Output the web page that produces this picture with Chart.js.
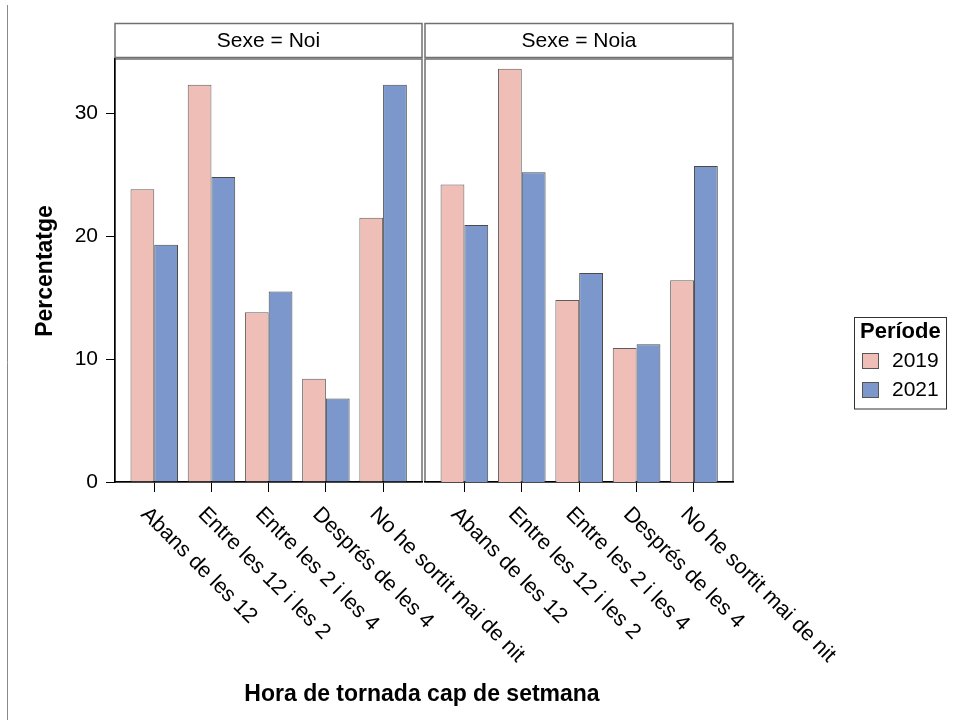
<!DOCTYPE html>
<html>
<head>
<meta charset="utf-8">
<script src="https://cdn.jsdelivr.net/npm/chart.js@4.4.1/dist/chart.umd.min.js"></script>
<style>
  body { margin: 0; background: #fff; }
  #wrap { position: relative; width: 954px; height: 720px; }
  canvas { position: absolute; left: 0; top: 0; }
</style>
</head>
<body>
<div id="wrap">
  <canvas id="noi" width="954" height="720"></canvas>
  <canvas id="noia" width="954" height="720"></canvas>
</div>
<script>
// data
const categories = ['Abans de les 12', 'Entre les 12 i les 2', 'Entre les 2 i les 4', 'Després de les 4', 'No he sortit mai de nit'];
const periods = ['2019', '2021'];
const panelTitles = ['Sexe = Noi', 'Sexe = Noia'];
const noi2019 = [23.8, 32.3, 13.8, 8.4, 21.5];
const noi2021 = [19.3, 24.8, 15.5, 6.8, 32.3];
const noia2019 = [24.2, 33.6, 14.8, 10.9, 16.4];
const noia2021 = [20.9, 25.2, 17.0, 11.2, 25.7];
const yTicks = [0, 10, 20, 30];
const yMax = 34.4;

const colors = ['#EFBEB7', '#7B97CC'];
const FONT = '"Liberation Sans", Arial, sans-serif';

Chart.defaults.font.family = FONT;
Chart.defaults.color = '#000';

// frame + strip header for each panel
const panelFrame = {
    id: 'panelFrame',
    beforeDraw(chart, args, opts) {
        const ctx = chart.ctx;
        const a = chart.chartArea;
        ctx.save();
        ctx.strokeStyle = '#707070';
        ctx.lineWidth = 1.5;
        ctx.strokeRect(a.left, a.top, a.right - a.left, a.bottom - a.top);
        ctx.strokeRect(a.left, 23.5, a.right - a.left, 34);
        ctx.fillStyle = '#000';
        ctx.font = '21px ' + FONT;
        ctx.textAlign = 'center';
        ctx.textBaseline = 'middle';
        ctx.fillText(opts.title, (a.left + a.right) / 2, 41);
        ctx.restore();
    },
    afterDraw(chart) {
        // rotated category labels under the axis
        const ctx = chart.ctx;
        const xs = chart.scales.x;
        ctx.save();
        ctx.fillStyle = '#000';
        ctx.font = '21.5px ' + FONT;
        ctx.textAlign = 'left';
        ctx.textBaseline = 'middle';
        categories.forEach(function (c, i) {
            const px = xs.getPixelForValue(i + 1);
            ctx.save();
            ctx.translate(px - 10, 511);
            ctx.rotate(Math.PI / 4);
            ctx.fillText(c, 0, 0);
            ctx.restore();
        });
        ctx.restore();
    }
};

// axis titles, legend and the thin line at the far left
const decorations = {
    id: 'decorations',
    afterDraw(chart) {
        const ctx = chart.ctx;
        ctx.save();
        ctx.strokeStyle = '#8a8a8a';
        ctx.lineWidth = 1;
        ctx.beginPath();
        ctx.moveTo(7.5, 5);
        ctx.lineTo(7.5, 720);
        ctx.stroke();

        ctx.fillStyle = '#000';
        ctx.font = 'bold 23px ' + FONT;
        ctx.textAlign = 'center';
        ctx.textBaseline = 'middle';
        ctx.fillText('Hora de tornada cap de setmana', 422, 695);
        ctx.save();
        ctx.translate(46, 271);
        ctx.rotate(-Math.PI / 2);
        ctx.fillText('Percentatge', 0, 0);
        ctx.restore();

        // legend
        ctx.strokeStyle = '#333';
        ctx.lineWidth = 1;
        ctx.strokeRect(854.5, 317.5, 92, 91.5);
        ctx.textAlign = 'left';
        ctx.font = 'bold 22px ' + FONT;
        ctx.fillText('Període', 860, 332);
        ctx.font = '21px ' + FONT;
        periods.forEach(function (p, i) {
            const y = 353.5 + i * 29;
            ctx.fillStyle = colors[i];
            ctx.fillRect(862.5, y, 16, 15);
            ctx.strokeStyle = '#555';
            ctx.strokeRect(862.5, y, 16, 15);
            ctx.fillStyle = '#000';
            ctx.fillText(p, 892, y + 8);
        });
        ctx.restore();
    }
};

function toPoints(values) {
    return values.map(function (v, i) { return { x: i + 1, y: v }; });
}

function makePanel(canvasId, title, values2019, values2021, isLeft) {
    const chartContent = document.getElementById(canvasId).getContext('2d');
    const plugins = isLeft ? [panelFrame, decorations] : [panelFrame];

    return new Chart(chartContent, {
        type: 'bar',
        data: {
            datasets: [{
                label: periods[0],
                data: toPoints(values2019),
                backgroundColor: colors[0],
                borderColor: '#5e5e5e',
                borderWidth: 1
            }, {
                label: periods[1],
                data: toPoints(values2021),
                backgroundColor: colors[1],
                borderColor: '#4a4a4a',
                borderWidth: 1
            }]
        },
        plugins: plugins,
        options: {
            responsive: false,
            animation: false,
            devicePixelRatio: 1,
            categoryPercentage: 0.83,
            barPercentage: 1.0,
            layout: {
                padding: isLeft
                    ? { left: 0, right: 532, top: 59, bottom: 0 }
                    : { left: 425, right: 221, top: 59, bottom: 0 }
            },
            plugins: {
                legend: { display: false },
                tooltip: { enabled: false },
                panelFrame: { title: title }
            },
            scales: {
                x: {
                    type: 'linear',
                    min: 0.314,
                    max: 5.68,
                    offset: false,
                    afterBuildTicks: function (scale) {
                        scale.ticks = categories.map(function (c, i) { return { value: i + 1 }; });
                    },
                    afterFit: function (scale) { scale.height = 238; },
                    ticks: { display: false },
                    grid: { offset: false, drawOnChartArea: false, drawTicks: true, tickLength: 10, color: '#000' },
                    border: { display: true, color: '#000', width: 1.5 }
                },
                y: {
                    display: isLeft,
                    min: 0,
                    max: yMax,
                    afterBuildTicks: function (scale) {
                        scale.ticks = yTicks.map(function (v) { return { value: v }; });
                    },
                    afterFit: function (scale) { scale.width = isLeft ? 115 : 0; },
                    ticks: { padding: 8, color: '#000', font: { size: 21 } },
                    grid: { drawOnChartArea: false, drawTicks: true, tickLength: 9, color: '#000' },
                    border: { display: true, color: '#000', width: 1.5 }
                }
            }
        }
    });
}

makePanel('noi', panelTitles[0], noi2019, noi2021, true);
makePanel('noia', panelTitles[1], noia2019, noia2021, false);
</script>
</body>
</html>
